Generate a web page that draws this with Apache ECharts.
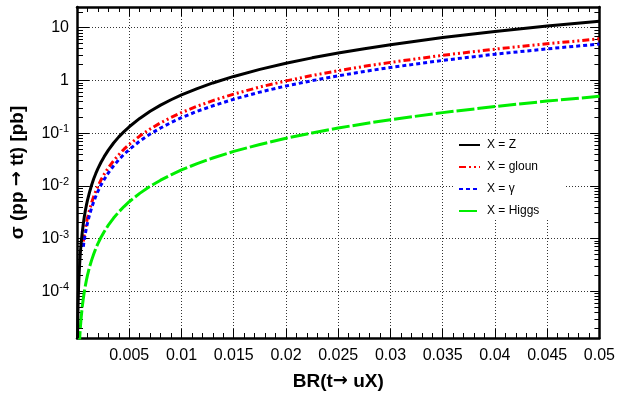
<!DOCTYPE html>
<html>
<head>
<meta charset="utf-8">
<script src="https://cdn.jsdelivr.net/npm/echarts@6/dist/echarts.min.js"></script>
<style>
  html, body { margin: 0; padding: 0; background: #fff; }
  #chart { width: 618px; height: 396px; }
</style>
</head>
<body>
<div id="chart"></div>
<script>
// BR(t -> uX) sample points
const brValues = [0.00005, 0.0001, 0.00015, 0.0002, 0.0003, 0.0004, 0.0005,
  0.0006, 0.0007, 0.0008, 0.0009, 0.001, 0.0012, 0.0014, 0.0016, 0.0018, 0.002,
  0.0023, 0.0026, 0.003, 0.0035, 0.004, 0.0045, 0.005, 0.006, 0.007, 0.008,
  0.009, 0.01, 0.0115, 0.013, 0.015, 0.0175, 0.02, 0.0225, 0.025, 0.0275,
  0.03, 0.035, 0.04, 0.045, 0.05];

// cross sections in pb
const sigmaZ = [1.3e-5, 5.3e-5, 1.2e-4, 2.1e-4, 4.8e-4, 8.5e-4, 1.3e-3,
  1.9e-3, 2.6e-3, 3.4e-3, 4.3e-3, 5.3e-3, 7.6e-3, 0.0104, 0.0136, 0.0172, 0.0212,
  0.028, 0.0358, 0.0477, 0.065, 0.085, 0.107, 0.132, 0.19, 0.26, 0.34,
  0.43, 0.53, 0.70, 0.895, 1.19, 1.62, 2.12, 2.68, 3.3, 4.0,
  4.77, 6.5, 8.5, 10.75, 13.3];
const sigmaGluon = [null, null, null, null, null, null, null,
  8.8e-4, 1.2e-3, 1.57e-3, 1.98e-3, 2.45e-3, 3.5e-3, 4.8e-3, 6.3e-3, 7.9e-3, 9.8e-3,
  0.013, 0.0166, 0.022, 0.030, 0.039, 0.0496, 0.061, 0.088, 0.12, 0.157,
  0.198, 0.245, 0.324, 0.414, 0.55, 0.75, 0.98, 1.24, 1.53, 1.85,
  2.2, 3.0, 3.92, 4.96, 6.15];
const sigmaGamma = [null, null, null, null, null, null, null,
  7.0e-4, 9.6e-4, 1.25e-3, 1.59e-3, 1.96e-3, 2.82e-3, 3.84e-3, 5.0e-3, 6.35e-3, 7.85e-3,
  0.0104, 0.0132, 0.0176, 0.024, 0.0314, 0.0397, 0.049, 0.0706, 0.096, 0.125,
  0.159, 0.196, 0.26, 0.33, 0.44, 0.60, 0.785, 0.99, 1.22, 1.48,
  1.76, 2.4, 3.14, 3.97, 4.9];
const sigmaHiggs = [null, null, null, 8e-6, 1.8e-5, 3.2e-5, 5e-5,
  7.2e-5, 9.8e-5, 1.28e-4, 1.62e-4, 2.0e-4, 2.9e-4, 3.9e-4, 5.1e-4, 6.5e-4, 8e-4,
  1.06e-3, 1.35e-3, 1.8e-3, 2.45e-3, 3.2e-3, 4.05e-3, 5.0e-3, 7.2e-3, 9.8e-3, 0.0128,
  0.0162, 0.02, 0.0265, 0.0338, 0.045, 0.061, 0.08, 0.101, 0.125, 0.151,
  0.18, 0.245, 0.32, 0.405, 0.5];

const seriesNames = ['X = Z', 'X = gloun', 'X = \u03b3', 'X = Higgs'];

// log minor ticks 2..9 per decade
const minorLogTicks = [];
for (let e = -5; e <= 1; e++) {
  for (let m = 2; m <= 9; m++) minorLogTicks.push(+(m * Math.pow(10, e)).toPrecision(3));
}

const yMin = 1.3e-5;
const yMax = 24.7;
const font = 'Liberation Sans, Arial, Helvetica, sans-serif';

const pairs = (ys) => brValues.map((x, i) => [x, ys[i]]).filter((p) => p[1] != null);

const chart = echarts.init(document.getElementById('chart'));

const frame = { show: true, lineStyle: { color: '#000', width: 2.5 } };

const yLabel = (v) => {
  const e = Math.round(Math.log10(v));
  if (e === 0) return '1';
  if (e === 1) return '10';
  return '{b|10}{sup|' + e + '}';
};

// axis titles, arrow taken from DejaVu so it keeps full size
const titleRich = {
  t: { fontSize: 19, fontWeight: 'bold', color: '#000', fontFamily: font },
  a: { fontSize: 18, fontWeight: 'bold', color: '#000', fontFamily: 'DejaVu Sans' }
};

const logAxis = (extra) => Object.assign({
  type: 'log',
  min: yMin,
  max: yMax,
  logBase: 10,
  axisLine: { show: false },
  axisLabel: { show: false },
  splitLine: { show: false },
  minorTick: { show: false },
  axisTick: { show: false }
}, extra);

chart.setOption({
  animation: false,
  backgroundColor: '#fff',
  textStyle: { fontFamily: font },
  grid: { left: 77, right: 17, top: 7, bottom: 54 },
  legend: {
    orient: 'vertical',
    left: 455,
    top: 136,
    itemWidth: 21,
    itemHeight: 12,
    itemGap: 10,
    padding: [3, 26, 3, 3],
    backgroundColor: '#fff',
    itemStyle: { opacity: 0, borderWidth: 0 },
    textStyle: { fontSize: 12, color: '#000', fontFamily: font, padding: [0, 0, 0, 2] },
    data: seriesNames
  },
  xAxis: [
    {
      type: 'value',
      min: 0,
      max: 0.05,
      interval: 0.005,
      name: '{t|BR(t}{a|\u2192}{t| uX)}',
      nameLocation: 'middle',
      nameGap: 34,
      nameTextStyle: { rich: titleRich },
      axisLine: frame,
      axisTick: { inside: true, length: 9, lineStyle: { color: '#000', width: 1 } },
      minorTick: { show: true, splitNumber: 5, length: 5, lineStyle: { color: '#000', width: 1 } },
      axisLabel: {
        margin: 10,
        fontSize: 16,
        color: '#000',
        formatter: (v) => (v === 0 ? '' : String(+v.toFixed(3)))
      },
      splitLine: { show: true, lineStyle: { color: '#333', type: [1, 2], width: 1 } }
    },
    {
      type: 'value',
      position: 'top',
      min: 0,
      max: 0.05,
      interval: 0.005,
      axisLine: frame,
      axisTick: { inside: true, length: 9, lineStyle: { color: '#000', width: 1 } },
      minorTick: { show: true, splitNumber: 5, length: 5, lineStyle: { color: '#000', width: 1 } },
      axisLabel: { show: false },
      splitLine: { show: false }
    }
  ],
  yAxis: [
    logAxis({
      position: 'left',
      name: '{t|\u03c3 (pp }{a|\u2192}{t| tt) [pb]}',
      nameLocation: 'middle',
      nameGap: 50,
      nameTextStyle: { rich: titleRich },
      axisLine: frame,
      axisTick: { show: true, inside: true, length: 12, lineStyle: { color: '#000', width: 1 } },
      axisLabel: {
        show: true,
        margin: 8,
        fontSize: 16,
        color: '#000',
        showMinLabel: false,
        showMaxLabel: false,
        formatter: yLabel,
        rich: {
          b: { fontSize: 16, color: '#000', fontFamily: font },
          sup: { fontSize: 11, color: '#000', fontFamily: font, padding: [0, 0, 8, 0] }
        }
      },
      splitLine: { show: true, lineStyle: { color: '#333', type: [1, 2], width: 1 } }
    }),
    logAxis({
      position: 'left',
      axisTick: { show: true, inside: true, length: 6, customValues: minorLogTicks, lineStyle: { color: '#000', width: 1 } }
    }),
    logAxis({
      position: 'right',
      axisLine: frame,
      axisTick: { show: true, inside: true, length: 9, lineStyle: { color: '#000', width: 1 } }
    }),
    logAxis({
      position: 'right',
      axisTick: { show: true, inside: true, length: 5, customValues: minorLogTicks, lineStyle: { color: '#000', width: 1 } }
    })
  ],
  series: [
    {
      name: seriesNames[0],
      type: 'line',
      data: pairs(sigmaZ),
      symbol: 'none',
      color: '#000000',
      lineStyle: { color: '#000000', width: 3 },
      z: 4
    },
    {
      name: seriesNames[1],
      type: 'line',
      data: pairs(sigmaGluon),
      symbol: 'none',
      color: '#ff0000',
      lineStyle: { color: '#ff0000', width: 3, type: [7, 3, 2, 3, 2, 3] },
      z: 3
    },
    {
      name: seriesNames[2],
      type: 'line',
      data: pairs(sigmaGamma),
      symbol: 'none',
      color: '#0000ff',
      lineStyle: { color: '#0000ff', width: 3, type: [4, 3] },
      z: 3
    },
    {
      name: seriesNames[3],
      type: 'line',
      data: pairs(sigmaHiggs),
      symbol: 'none',
      color: '#00ee00',
      lineStyle: { color: '#00ee00', width: 3, type: [18, 3] },
      z: 3
    }
  ]
});

window.addEventListener('resize', () => chart.resize());
</script>
</body>
</html>
